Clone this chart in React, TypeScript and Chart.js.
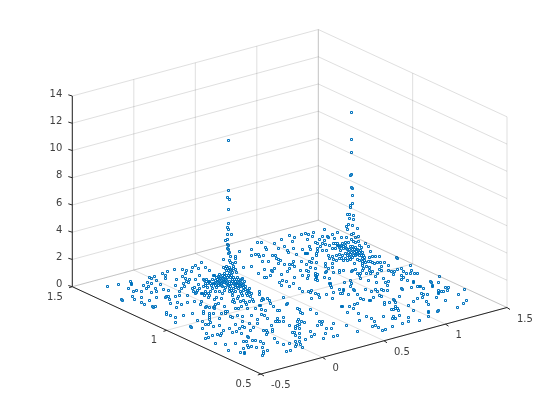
import React, { useEffect, useRef } from "react";
import { Chart, registerables } from "chart.js";

Chart.register(...registerables);

const xTicks = [-0.5, 0, 0.5, 1, 1.5];
const yTicks = [0.5, 1, 1.5];
const zTicks = [0, 2, 4, 6, 8, 10, 12, 14];

// Marker positions, in view-plane units of the projected 3-D scene.
const spikeA = [[228,140],[228,190],[227,197],[229,199],[228,209],[228,223],[227,227],[228,229],[231,234],[227,234],[225,240],[227,239],[227,244],[228,245],[227,248],[228,249],[229,252],[228,253],[230,256],[235,256],[235,258],[229,260],[230,262],[235,262],[232,263],[239,251],[223,259]];
const spikeB = [[351,112],[351,139],[351,152],[351,174],[350,175],[351,187],[352,188],[352,195],[352,203],[350,205],[350,207],[347,214],[349,214],[353,215],[349,218],[353,219],[348,224],[346,226],[352,225],[357,228],[347,229],[351,234],[353,233],[346,237],[355,237],[358,236],[351,239],[353,241],[358,241],[355,242],[359,245],[348,242]];
const farLeft = [[107,286],[118,284],[130,281],[131,283],[131,284],[128,288],[136,290],[133,291],[132,296],[134,299],[121,299],[122,300],[143,285],[141,291],[141,297],[141,302],[144,304],[149,300],[147,282],[151,283],[149,277],[151,278],[154,276],[156,280],[160,284],[148,286],[146,288],[151,292],[155,288],[156,291],[156,297],[152,306],[153,307],[155,306],[162,273],[165,275],[167,271],[165,278],[174,269],[176,279],[175,285],[163,289],[168,290],[165,297],[166,296],[169,299],[168,296],[170,303],[175,296],[179,291],[179,295],[177,302],[176,307],[166,312],[166,314],[170,315],[175,317],[175,322]];
const clusterA = [[195,265],[201,262],[182,269],[186,270],[185,273],[192,267],[191,271],[198,268],[205,267],[209,270],[213,275],[199,275],[195,279],[189,279],[185,278],[182,276],[186,281],[183,283],[184,286],[181,288],[188,282],[192,288],[194,287],[193,291],[198,284],[199,288],[203,279],[206,279],[208,281],[205,283],[209,281],[212,279],[214,275],[219,274],[219,277],[222,275],[223,279],[220,281],[217,279],[224,273],[226,270],[223,267],[226,266],[229,267],[233,268],[232,272],[235,269],[229,273],[227,277],[230,277],[233,277],[237,277],[242,278],[243,267],[251,266],[258,273],[264,269],[266,277],[270,275],[272,271],[281,274],[279,282],[281,285],[286,281],[289,286],[294,277],[287,271],[293,283]];
const clusterALow = [[213,283],[215,285],[218,283],[221,285],[224,282],[227,284],[229,281],[232,281],[235,281],[238,282],[241,283],[244,281],[230,286],[233,288],[237,285],[240,286],[243,287],[245,289],[249,288],[251,293],[259,291],[259,294],[246,293],[248,291],[238,288],[235,291],[232,292],[229,291],[224,290],[222,293],[219,291],[215,291],[210,291],[208,293],[205,291],[202,293],[195,293],[187,295],[201,293],[214,299],[216,297],[221,298],[232,295],[233,299],[238,296],[242,295],[237,298],[252,299],[262,298],[263,299],[267,298],[283,297],[217,282],[218,285],[222,282],[226,280],[228,285],[231,283],[234,284],[236,283],[240,280],[241,279],[243,284],[245,286],[211,285],[207,287],[203,286],[205,285],[215,280],[216,277],[222,286],[225,287],[229,288],[231,290],[235,287],[240,291],[243,290],[241,293],[204,295],[208,297]];
const denseA = [[218,276],[220,278],[222,278],[224,276],[225,279],[219,280],[221,283],[223,281],[226,275],[228,275],[231,275],[232,279],[234,279],[236,279],[238,279],[240,284],[242,285],[233,283],[235,285],[237,283],[239,285],[226,283],[229,283],[214,283],[216,287],[212,288],[225,268],[227,268],[228,270],[231,270],[230,269],[233,266],[236,272],[247,290],[249,292],[247,295],[250,296],[204,280],[207,283],[210,283],[197,290],[196,292],[205,293],[209,295]];
const midUpper = [[257,242],[261,242],[274,243],[281,239],[284,246],[289,235],[294,237],[292,241],[293,248],[301,234],[305,233],[308,234],[307,239],[309,246],[302,249],[306,253],[296,254],[287,250],[288,252],[278,248],[265,247],[266,249],[251,249],[251,255],[255,254],[258,254],[259,256],[263,255],[272,255],[275,255],[276,258],[278,259],[280,260],[262,261],[268,261],[284,264],[289,264],[293,261],[292,264],[294,266],[289,268],[278,263],[274,268],[271,270],[301,261],[305,253],[309,261],[300,270],[302,275],[306,270],[308,271],[306,264],[308,275],[299,288],[302,291],[308,291],[282,280],[264,277]];
const lowerLeft = [[194,301],[187,302],[181,304],[200,304],[201,301],[205,307],[206,306],[209,307],[214,306],[215,304],[218,303],[213,307],[214,308],[192,313],[190,326],[191,327],[197,320],[202,321],[202,328],[205,324],[208,324],[210,322],[203,311],[203,313],[209,313],[209,315],[209,317],[209,319],[213,313],[219,318],[213,326],[219,325],[206,333],[212,335],[217,334],[208,337],[205,338],[215,343],[183,315]];
const lowerMid = [[224,306],[232,301],[234,302],[221,313],[225,313],[230,316],[232,317],[235,308],[227,311],[225,311],[235,324],[229,328],[236,331],[232,332],[223,330],[221,333],[220,335],[225,344],[235,343],[228,350],[240,352],[243,348],[244,352],[244,353],[248,347],[247,345],[251,346],[255,340],[243,341],[246,341],[252,340],[256,347],[260,341],[263,343],[262,347],[267,350],[263,351],[263,353],[262,355],[241,333],[244,327],[250,330],[253,327],[257,319],[257,323],[251,315],[255,308],[253,301],[247,308],[246,304],[241,306],[238,308],[237,315],[242,316],[242,321],[242,326],[239,328],[249,323],[261,309],[261,314],[265,310],[264,315],[267,318],[271,325],[272,329],[272,331],[263,330],[266,330],[267,332],[266,334],[274,338],[277,342],[283,344],[289,343],[286,351],[290,350],[247,336],[248,337]];
const lowerRight = [[292,332],[294,332],[295,328],[299,324],[297,325],[295,335],[299,333],[299,337],[295,341],[296,344],[295,346],[299,341],[300,344],[302,347],[305,339],[310,331],[311,336],[314,334],[317,325],[319,321],[322,321],[321,324],[326,328],[325,333],[323,338],[333,323],[331,328],[333,336],[337,335],[310,309],[316,313],[300,312],[302,313],[297,308],[299,309],[275,321],[277,318],[277,321],[279,321],[283,317],[283,321],[287,303],[286,304],[277,310],[279,310],[273,306],[289,325],[298,319],[297,321],[301,321],[304,322],[295,326],[299,328],[269,300],[270,303],[261,300],[259,305],[260,305],[249,301],[245,302],[240,301],[243,300]];
const clusterB = [[312,236],[313,232],[324,229],[322,236],[327,236],[328,237],[324,240],[332,234],[337,232],[341,237],[334,238],[337,243],[333,243],[332,248],[310,249],[319,239],[315,242],[317,243],[322,243],[325,244],[329,245],[338,245],[340,246],[343,248],[342,243],[345,242],[346,248],[349,249],[351,252],[354,252],[357,249],[359,252],[362,252],[352,246],[355,247],[361,247],[365,243],[368,246],[370,251],[369,257],[372,256],[375,256],[379,256],[364,257],[362,258],[359,255],[356,254],[348,252],[345,253],[342,255],[339,258],[336,260],[343,260],[349,257],[352,257],[354,263],[362,261],[365,262],[368,261],[370,261],[355,269],[352,270],[351,271],[343,270],[339,272],[339,270],[333,272],[332,267],[328,268],[325,266],[326,271],[325,272],[316,253],[316,255],[317,251],[317,248],[326,250],[328,255],[332,256],[333,259],[329,258],[312,258],[311,262],[310,267],[315,268],[316,262],[325,263],[332,263]];
const denseB = [[335,243],[337,245],[339,247],[341,245],[343,246],[345,245],[350,246],[352,249],[354,249],[356,251],[358,250],[360,250],[350,254],[353,255],[355,255],[357,253],[361,255],[363,255],[362,263],[362,265],[364,260],[347,249],[347,255],[350,259],[340,250],[335,248],[305,253],[307,253],[315,273],[317,274],[316,277],[307,278],[330,283],[330,285],[336,255],[339,254],[341,258],[345,258],[347,260],[357,259],[359,260],[372,262],[374,263],[322,250],[320,246]];
const clusterBLow = [[315,275],[316,276],[315,279],[317,280],[324,277],[329,278],[329,283],[331,287],[333,292],[326,294],[318,294],[315,293],[311,290],[310,292],[311,298],[319,297],[332,298],[339,289],[343,289],[344,282],[350,280],[351,283],[350,286],[360,278],[368,280],[365,289],[353,289],[375,289],[377,273],[376,282],[375,276],[372,271],[369,270],[366,266],[369,267],[370,273],[366,273],[363,268],[362,270],[360,273],[359,275],[357,273],[379,269],[381,270],[377,262],[380,262],[384,262],[381,266],[388,265],[388,270],[391,271],[394,271],[397,269],[393,274],[381,289],[387,285],[385,282],[388,281],[383,278],[396,257],[397,258]];
const nearRight = [[340,293],[342,293],[343,290],[348,294],[354,290],[357,294],[360,298],[363,299],[369,300],[370,300],[373,297],[371,291],[377,291],[379,295],[381,296],[383,290],[387,290],[399,296],[384,302],[384,304],[389,302],[393,299],[394,300],[395,302],[391,309],[393,309],[395,306],[395,308],[398,310],[397,308],[399,315],[392,318],[395,318],[393,316],[383,316],[374,321],[366,316],[358,313],[359,320],[371,318],[372,326],[375,325],[378,327],[382,330],[385,329],[392,326],[347,312],[349,306],[353,308],[354,304],[357,303],[341,306],[342,306],[346,325],[357,331]];
const farRight = [[410,265],[411,270],[403,271],[410,273],[414,273],[417,273],[406,273],[401,268],[401,275],[403,277],[407,280],[401,279],[413,281],[413,282],[439,276],[438,282],[430,281],[431,282],[432,285],[432,286],[417,286],[419,286],[420,286],[423,288],[411,287],[401,288],[402,289],[421,293],[423,294],[427,294],[422,297],[417,298],[426,301],[428,304],[413,301],[408,305],[413,310],[428,311],[428,312],[438,310],[437,311],[428,316],[419,320],[408,317],[408,321],[402,323],[436,297],[438,290],[438,292],[441,291],[443,291],[438,293],[445,287],[448,287],[447,290],[445,300],[458,294],[464,289],[466,300],[463,303],[457,307]];

const markerGroups = [spikeA, spikeB, farLeft, clusterA, clusterALow, denseA, midUpper, lowerLeft, lowerMid, lowerRight, clusterB, denseB, clusterBLow, nearRight, farRight];

const BLUE = "#0072BD";
const GRID = "rgba(38,38,38,0.15)";
const AXIS = "#262626";
const TEXT = "#404040";

// Orthographic view of the axes box, expressed in view-plane units.
function project(x: number, y: number, z: number) {
  const a = (x + 0.5) / 2;
  const b = y - 0.5;
  return { x: 261 + a * 246 - b * 188.7 - 0.5, y: 374 - a * 66.5 - b * 87.3 - z * 13.62 - 0.5 };
}

type P = { x: number; y: number };
const GAP: P = { x: NaN, y: NaN };

function segs(list: [P, P][]): P[] {
  const out: P[] = [];
  list.forEach(([a, b]) => out.push(a, b, GAP));
  return out;
}

function lineSet(data: P[], color: string) {
  return {
    type: "scatter" as const,
    data,
    showLine: true,
    spanGaps: false,
    borderColor: color,
    backgroundColor: color,
    borderWidth: 1,
    pointRadius: 0,
    pointHoverRadius: 0,
    tension: 0,
  };
}

const Z_TOP = zTicks[zTicks.length - 1];
const X_MAX = xTicks[xTicks.length - 1];
const X_MIN = xTicks[0];
const Y_MAX = yTicks[yTicks.length - 1];
const Y_MIN = yTicks[0];

const floorGrid = segs([
  ...xTicks.map((x) => [project(x, Y_MIN, 0), project(x, Y_MAX, 0)] as [P, P]),
  ...yTicks.map((y) => [project(X_MIN, y, 0), project(X_MAX, y, 0)] as [P, P]),
]);
const leftWall = segs([
  ...xTicks.map((x) => [project(x, Y_MAX, 0), project(x, Y_MAX, Z_TOP)] as [P, P]),
  ...zTicks.map((z) => [project(X_MIN, Y_MAX, z), project(X_MAX, Y_MAX, z)] as [P, P]),
]);
const rightWall = segs([
  ...yTicks.map((y) => [project(X_MAX, y, 0), project(X_MAX, y, Z_TOP)] as [P, P]),
  ...zTicks.map((z) => [project(X_MAX, Y_MIN, z), project(X_MAX, Y_MAX, z)] as [P, P]),
]);
const axisLines = segs([
  [project(X_MIN, Y_MAX, 0), project(X_MIN, Y_MAX, Z_TOP)],
  [project(X_MIN, Y_MIN, 0), project(X_MAX, Y_MIN, 0)],
  [project(X_MIN, Y_MIN, 0), project(X_MIN, Y_MAX, 0)],
  ...zTicks.map((z) => {
    const p = project(X_MIN, Y_MAX, z);
    return [p, { x: p.x - 4, y: p.y - 1.2 }] as [P, P];
  }),
  ...xTicks.map((x) => {
    const p = project(x, Y_MIN, 0);
    return [p, { x: p.x + 3, y: p.y + 2 }] as [P, P];
  }),
  ...yTicks.map((y) => {
    const p = project(X_MIN, y, 0);
    return [p, { x: p.x - 3.2, y: p.y + 1 }] as [P, P];
  }),
]);

const labelPlugin = {
  id: "tickLabels",
  afterDatasetsDraw(chart: Chart) {
    const ctx = chart.ctx;
    const sx = chart.scales.x;
    const sy = chart.scales.y;
    ctx.save();
    ctx.font = '10px "DejaVu Sans"';
    ctx.fillStyle = TEXT;
    ctx.textBaseline = "middle";
    ctx.textAlign = "right";
    zTicks.forEach((z) => {
      const p = project(X_MIN, Y_MAX, z);
      ctx.fillText(String(z), sx.getPixelForValue(p.x) - 10, sy.getPixelForValue(p.y) - 2);
    });
    yTicks.forEach((y) => {
      const p = project(X_MIN, y, 0);
      ctx.fillText(String(y), sx.getPixelForValue(p.x) - 9.5, sy.getPixelForValue(p.y) + 10.5);
    });
    ctx.textAlign = "left";
    xTicks.forEach((x) => {
      const p = project(x, Y_MIN, 0);
      ctx.fillText(String(x), sx.getPixelForValue(p.x) + 10, sy.getPixelForValue(p.y) + 11.5);
    });
    ctx.restore();
  },
};

export default function App() {
  const ref = useRef<HTMLCanvasElement>(null);
  useEffect(() => {
    if (!ref.current) return;
    const markers = markerGroups.flat().map(([x, y]) => ({ x, y }));
    const chart = new Chart(ref.current, {
      type: "scatter",
      data: {
        datasets: [
          lineSet(floorGrid, GRID),
          lineSet(leftWall, GRID),
          lineSet(rightWall, GRID),
          lineSet(axisLines, AXIS),
          {
            type: "scatter",
            data: markers,
            pointStyle: "rect",
            pointRadius: Math.SQRT2,
            pointHoverRadius: Math.SQRT2,
            borderWidth: 1,
            pointBorderWidth: 1,
            pointBorderColor: BLUE,
            pointBackgroundColor: "rgba(0,0,0,0)",
            showLine: false,
          },
        ],
      },
      options: {
        responsive: false,
        animation: false,
        layout: { padding: 0, autoPadding: false },
        plugins: { legend: { display: false }, title: { display: false }, tooltip: { enabled: false } },
        scales: {
          x: { type: "linear", display: false, min: -0.5, max: 559.5 },
          y: { type: "linear", display: false, min: -0.5, max: 419.5, reverse: true },
        },
      },
      plugins: [labelPlugin],
    } as any);
    return () => chart.destroy();
  }, []);
  return (
    <div style={{ position: "fixed", left: 0, top: 0, width: 560, height: 420, background: "#fff" }}>
      <canvas ref={ref} width={560} height={420} style={{ display: "block" }} />
    </div>
  );
}
